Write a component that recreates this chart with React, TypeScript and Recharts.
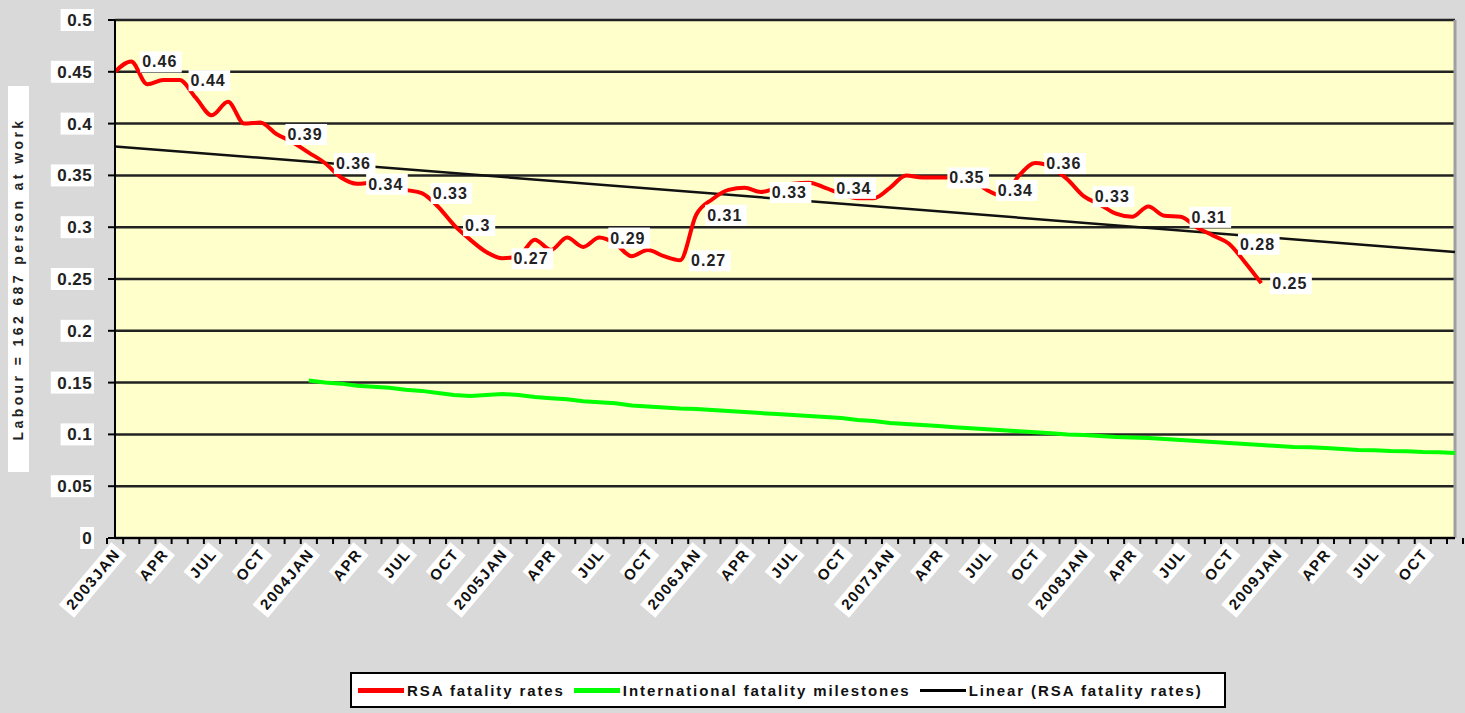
import React from 'react'
import { LineChart, Line, XAxis, YAxis, CartesianGrid, ReferenceLine, LabelList } from 'recharts'

const FONT = '"Liberation Sans", Arial, sans-serif'

const years = ['2003', '2004', '2005', '2006', '2007', '2008', '2009']
const monthNames = ['JAN', 'FEB', 'MAR', 'APR', 'MAY', 'JUN', 'JUL', 'AUG', 'SEP', 'OCT', 'NOV', 'DEC']
const months = years.flatMap(y => monthNames.map(m => `${y}${m}`))

// every third month carries a label on the axis
const tickLabels = [
  '2003JAN', 'APR', 'JUL', 'OCT', '2004JAN', 'APR', 'JUL', 'OCT',
  '2005JAN', 'APR', 'JUL', 'OCT', '2006JAN', 'APR', 'JUL', 'OCT',
  '2007JAN', 'APR', 'JUL', 'OCT', '2008JAN', 'APR', 'JUL', 'OCT',
  '2009JAN', 'APR', 'JUL', 'OCT',
]

const yTicks = [0, 0.05, 0.1, 0.15, 0.2, 0.25, 0.3, 0.35, 0.4, 0.45, 0.5]

// RSA fatality rates, 2003JAN .. 2008DEC
const rsaRates = [
  0.45, 0.46, 0.438, 0.442, 0.442, 0.425, 0.408, 0.421, 0.4, 0.401, 0.39, 0.382,
  0.372, 0.362, 0.348, 0.342, 0.343, 0.34, 0.336, 0.333, 0.32, 0.302, 0.288, 0.276,
  0.27, 0.272, 0.288, 0.278, 0.29, 0.281, 0.29, 0.284, 0.272, 0.278, 0.272, 0.268,
  0.312, 0.327, 0.336, 0.338, 0.334, 0.338, 0.342, 0.343, 0.338, 0.332, 0.328, 0.328,
  0.338, 0.35, 0.348, 0.348, 0.348, 0.347, 0.336, 0.33, 0.35, 0.362, 0.358, 0.346,
  0.33, 0.322, 0.313, 0.31, 0.32, 0.311, 0.31, 0.3, 0.292, 0.284, 0.266, 0.246,
]
// months (index) whose RSA value carries a data label
const labelledMonths = [1, 4, 10, 13, 15, 19, 21, 24, 30, 35, 36, 40, 44, 51, 54, 57, 60, 66, 69, 71]

// International fatality milestones, 2004JAN .. 2009DEC
const intlStart = 12
const intlMilestones = [
  0.152, 0.15, 0.149, 0.147, 0.146, 0.145, 0.143, 0.142, 0.14, 0.138, 0.137, 0.138,
  0.139, 0.138, 0.136, 0.135, 0.134, 0.132, 0.131, 0.13, 0.128, 0.127, 0.126, 0.125,
  0.1245, 0.1235, 0.1225, 0.1216, 0.1206, 0.1197, 0.1187, 0.1178, 0.1168, 0.1158, 0.114, 0.113,
  0.111, 0.11, 0.109, 0.108, 0.107, 0.106, 0.105, 0.104, 0.103, 0.102, 0.101, 0.1,
  0.0994, 0.0985, 0.0975, 0.097, 0.0965, 0.0956, 0.0946, 0.0936, 0.0927, 0.0917, 0.0907, 0.0898,
  0.0888, 0.0878, 0.0875, 0.0869, 0.0859, 0.085, 0.0848, 0.084, 0.0838, 0.083, 0.0828, 0.082,
]

// linear trend of the RSA rates, first and last month
const trendStart = 0.378
const trendEnd = 0.276

const fmt = (v: number) => String(Number(v.toFixed(2)))

const rows = months.map((m, i) => ({
  month: m,
  rsa: i < rsaRates.length ? rsaRates[i] : null,
  intl: i >= intlStart ? intlMilestones[i - intlStart] : null,
  lab: labelledMonths.includes(i) ? fmt(rsaRates[i]) : null,
}))

const CHART_W = 1465
const CHART_H = 713
const Y_W = 115
const RIGHT = 10
const HALF_BAND = (CHART_W - Y_W - RIGHT) / months.length / 2

const XTick = ({ x, y, payload }: any) => {
  const i = months.indexOf(payload.value)
  const label = i % 3 === 0 ? tickLabels[i / 3] : ''
  const w = label.length * 10.8
  return (
    <g>
      <line x1={x - HALF_BAND} x2={x - HALF_BAND} y1={y - 6} y2={y} stroke="#000" strokeWidth={2} />
      {i === months.length - 1 && (
        <line x1={x + HALF_BAND} x2={x + HALF_BAND} y1={y - 6} y2={y} stroke="#000" strokeWidth={2} />
      )}
      {label && (
        <g transform={`translate(${x + 2},${y + 7}) rotate(-50)`}>
          <rect x={-w - 3} y={-10} width={w + 6} height={20} fill="#fff" />
          <text x={0} y={5} textAnchor="end" fontSize={15} fontWeight="bold" fill="#111" letterSpacing={1.5} fontFamily={FONT}>
            {label}
          </text>
        </g>
      )}
    </g>
  )
}

const YTick = ({ x, y, payload }: any) => {
  const t = String(payload.value)
  const w = t.length * 9.8 + 4
  return (
    <g>
      <rect x={x - w + 2} y={y - 11} width={w} height={22} fill="#fff" />
      <text x={x} y={y + 6} textAnchor="end" fontSize={17} fontWeight="bold" fill="#222" letterSpacing={0.4} fontFamily={FONT}>
        {t}
      </text>
    </g>
  )
}

const YTitle = (props: any) => {
  const vb = props.viewBox || {}
  const cx = 18
  const cy = (vb.y ?? 20) + (vb.height ?? 518) / 2
  return (
    <g transform={`translate(${cx},${cy}) rotate(-90)`}>
      <rect x={-193} y={-10} width={386} height={21} fill="#fff" />
      <text x={0} y={5} textAnchor="middle" fontSize={14} fontWeight="bold" fill="#222" letterSpacing={3.4} fontFamily={FONT}>
        Labour = 162 687 person at work
      </text>
    </g>
  )
}

const RedLabel = (props: any) => {
  const { value } = props
  if (value == null) return null
  const x = props.x ?? props.viewBox?.x
  const y = props.y ?? props.viewBox?.y
  const text = String(value)
  const w = text.length * 9.4 + 4
  return (
    <g>
      <rect x={x + 9} y={y - 10} width={w} height={21} fill="#fff" />
      <text x={x + 11} y={y + 6} fontSize={16} fontWeight="bold" fill="#222" letterSpacing={1} fontFamily={FONT}>
        {text}
      </text>
    </g>
  )
}

const legendItems = [
  { label: 'RSA fatality rates', color: '#FF0000', h: 5 },
  { label: 'International fatality milestones', color: '#00FF00', h: 5 },
  { label: 'Linear (RSA fatality rates)', color: '#000000', h: 3 },
]

export default function App() {
  return (
    <div style={{ position: 'relative', width: CHART_W, height: CHART_H, background: '#D9D9D9', fontFamily: FONT }}>
      <style>{'body{margin:0}'}</style>
      <LineChart width={CHART_W} height={CHART_H} data={rows} margin={{ top: 20, right: RIGHT, bottom: 0, left: 0 }}>
        <CartesianGrid fill="#FFFFCC" stroke="#222" strokeWidth={2.5} vertical={false} />
        <XAxis
          dataKey="month"
          height={175}
          interval={0}
          tick={<XTick />}
          tickLine={false}
          tickSize={6}
          tickMargin={0}
          axisLine={{ stroke: '#000', strokeWidth: 2 }}
        />
        <YAxis
          domain={[0, 0.5]}
          ticks={yTicks}
          width={Y_W}
          tickSize={7}
          tickMargin={16}
          tick={<YTick />}
          tickLine={{ stroke: '#000', strokeWidth: 2 }}
          axisLine={{ stroke: '#000', strokeWidth: 2 }}
          label={{ value: 'Labour', content: YTitle }}
        />
        <ReferenceLine x={months[months.length - 1]} position="end" stroke="#A0A0A0" strokeWidth={3} />
        <ReferenceLine
          segment={[{ x: months[0], y: trendStart }, { x: months[months.length - 1], y: trendEnd }]}
          stroke="#111"
          strokeWidth={2.5}
        />
        <Line dataKey="intl" stroke="#00FF00" strokeWidth={4} dot={false} isAnimationActive={false} />
        <Line dataKey="rsa" type="monotone" stroke="#FF0000" strokeWidth={4} dot={false} isAnimationActive={false}>
          <LabelList dataKey="lab" content={RedLabel} />
        </Line>
      </LineChart>
      <div
        style={{
          position: 'absolute', left: 350, top: 672, width: 866, height: 32,
          background: '#fff', border: '2px solid #000', display: 'flex', alignItems: 'center',
          paddingLeft: 6, fontWeight: 'bold', fontSize: 15, letterSpacing: 1.9, color: '#111', boxSizing: 'content-box',
          whiteSpace: 'nowrap',
        }}
      >
        {legendItems.map(it => (
          <span key={it.label} style={{ display: 'flex', alignItems: 'center', marginRight: 9 }}>
            <span style={{ display: 'inline-block', width: 46, height: it.h, background: it.color, marginRight: 3 }} />
            {it.label}
          </span>
        ))}
      </div>
    </div>
  )
}
